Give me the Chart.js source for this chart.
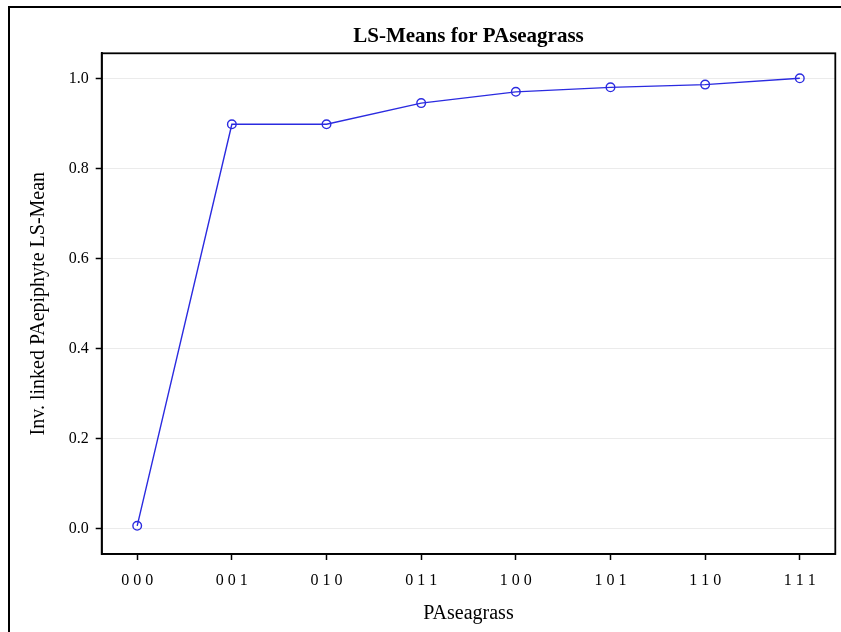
<!DOCTYPE html>
<html lang="en">
<head>
  <meta charset="UTF-8" />
  <title>LS-Means for PAseagrass</title>
  <script src="https://cdn.jsdelivr.net/npm/chart.js"></script>
  <style>
    html, body {
      margin: 0;
      padding: 0;
      background: #fff;
    }
    #wrap {
      width: 841px;
      height: 632px;
    }
  </style>
</head>
<body>
  <div id="wrap"><canvas id="lsChart" width="841" height="632"></canvas></div>

  <script>
    // PAseagrass levels and the inverse-linked LS-means
    const categories = ["000", "001", "010", "011", "100", "101", "110", "111"];
    const lsMeans = [0.007, 0.898, 0.898, 0.945, 0.970, 0.980, 0.986, 1.000];
    const yTicks = [0.0, 0.2, 0.4, 0.6, 0.8, 1.0];

    const serif = "'Liberation Serif', 'Times New Roman', serif";
    const lineBlue = "#2b2be0";

    // box around the plot area plus the outer frame lines
    const framePlugin = {
      id: "frame",
      beforeDraw(chart) {
        const ctx = chart.ctx;
        ctx.save();
        ctx.strokeStyle = "#000";
        ctx.lineWidth = 2;
        ctx.beginPath();
        ctx.moveTo(9, chart.height + 5);
        ctx.lineTo(9, 7);
        ctx.lineTo(chart.width + 5, 7);
        ctx.stroke();
        ctx.restore();
      },
      afterDatasetsDraw(chart) {
        const a = chart.chartArea;
        const ctx = chart.ctx;
        ctx.save();
        ctx.strokeStyle = "#000";
        ctx.lineWidth = 1.8;
        ctx.strokeRect(a.left, a.top, a.right - a.left, a.bottom - a.top);
        ctx.restore();
      }
    };

    new Chart(document.getElementById("lsChart"), {
      type: "line",
      data: {
        datasets: [{
          data: lsMeans.map((v, i) => ({ x: i, y: v })),
          borderColor: lineBlue,
          borderWidth: 1.4,
          pointStyle: "circle",
          pointRadius: 4.3,
          pointBorderWidth: 1.4,
          pointBorderColor: lineBlue,
          pointBackgroundColor: "rgba(255,255,255,0)",
          tension: 0
        }]
      },
      options: {
        responsive: false,
        animation: false,
        layout: { padding: { top: 0, right: 4, bottom: 0, left: 0 } },
        plugins: {
          legend: { display: false },
          tooltip: { enabled: false },
          title: {
            display: true,
            fullSize: false, // centred over the plot area
            text: "LS-Means for PAseagrass",
            color: "#000",
            font: { family: serif, size: 21, weight: "bold" },
            padding: { top: 23.8, bottom: 4.3 }
          }
        },
        scales: {
          x: {
            type: "linear",
            min: -0.375,
            max: categories.length - 1 + 0.375,
            afterBuildTicks: s => { s.ticks = categories.map((c, i) => ({ value: i })); },
            afterFit: s => { s.height = 78; },
            grid: {
              drawOnChartArea: false,
              drawTicks: true,
              tickLength: 6,
              tickColor: "#000",
              tickWidth: 1.5
            },
            border: { display: true, color: "#000", width: 1.8 },
            ticks: {
              color: "#000",
              padding: 11,
              maxRotation: 0,
              autoSkip: false,
              font: { family: serif, size: 16 },
              callback: v => categories[v].split("").join(" ")
            },
            title: {
              display: true,
              text: "PAseagrass",
              color: "#000",
              font: { family: serif, size: 20 },
              padding: { top: 0, bottom: 6 }
            }
          },
          y: {
            min: -0.0555,
            max: 1.0555,
            afterBuildTicks: s => { s.ticks = yTicks.map(v => ({ value: v })); },
            afterFit: s => { s.width = 101.7; },
            grid: {
              color: "#ebebeb",
              lineWidth: 1,
              drawTicks: true,
              tickLength: 6,
              tickColor: "#000",
              tickWidth: 1.5
            },
            border: { display: true, color: "#000", width: 1.8 },
            ticks: {
              color: "#000",
              padding: 7,
              font: { family: serif, size: 16 },
              callback: v => v.toFixed(1)
            },
            title: {
              display: true,
              text: "Inv. linked PAepiphyte LS-Mean",
              color: "#000",
              font: { family: serif, size: 20 },
              padding: { top: 26.5, bottom: 0 }
            }
          }
        }
      },
      plugins: [framePlugin]
    });
  </script>
</body>
</html>
